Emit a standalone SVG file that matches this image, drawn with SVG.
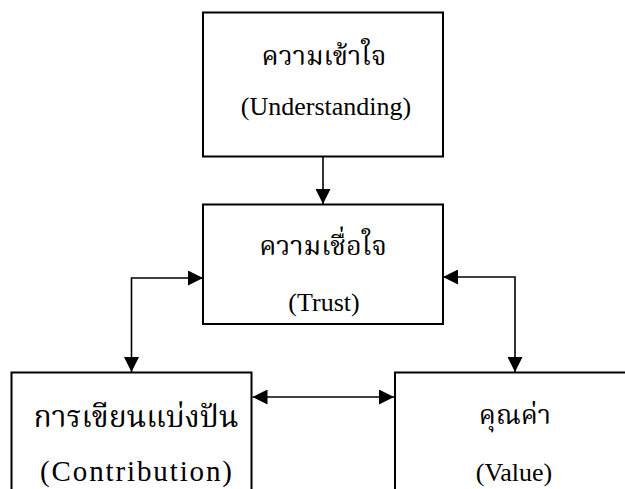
<svg xmlns="http://www.w3.org/2000/svg" width="625" height="489" viewBox="0 0 625 489">
<defs>
<style>
.box{fill:#fff;stroke:#000;stroke-width:2}
.con{fill:none;stroke:#000;stroke-width:1.6}
.th{font-family:"Noto Serif Thai","Noto Sans Thai","Liberation Serif","Noto Sans",serif;font-size:27px;fill:#000;text-anchor:middle}
.en{font-family:"Liberation Serif","Times New Roman",serif;font-size:26px;fill:#000;text-anchor:middle}
</style>
<marker id="ah" markerUnits="userSpaceOnUse" markerWidth="15" markerHeight="15" refX="15" refY="7.5" orient="auto-start-reverse" viewBox="0 0 15 15">
<path d="M0,0 L15,7.5 L0,15 z" fill="#000"/>
</marker>
</defs>
<rect width="625" height="489" fill="#fff"/>
<g id="understanding">
<rect class="box" x="203" y="12.5" width="240" height="144"/>
<text class="th" x="324" y="65">ความเข้าใจ</text>
<text class="en" x="326" y="115">(Understanding)</text>
</g>
<g id="trust">
<rect class="box" x="203" y="204.5" width="240" height="119.5"/>
<text class="th" x="323" y="255">ความเชื่อใจ</text>
<text class="en" x="324" y="311">(Trust)</text>
</g>
<g id="contribution">
<rect class="box" x="11.5" y="372.5" width="240" height="140"/>
<text class="th" x="136" y="427" style="font-size:30px">การเขียนแบ่งปัน</text>
<text class="en" x="136" y="481" style="font-size:29px" textLength="192" lengthAdjust="spacing">(Contribution)</text>
</g>
<g id="value">
<rect class="box" x="395" y="372.5" width="240" height="140"/>
<text class="th" x="515" y="424">คุณค่า</text>
<text class="en" x="514" y="481">(Value)</text>
</g>
<g id="connectors">
<path class="con" d="M323,157 L323,204" marker-end="url(#ah)"/>
<path class="con" d="M203,278 L131.5,278 L131.5,372" marker-start="url(#ah)" marker-end="url(#ah)"/>
<path class="con" d="M443,277 L515,277 L515,372" marker-start="url(#ah)" marker-end="url(#ah)"/>
<path class="con" d="M252.5,397 L394,397" marker-start="url(#ah)" marker-end="url(#ah)"/>
</g>
</svg>
